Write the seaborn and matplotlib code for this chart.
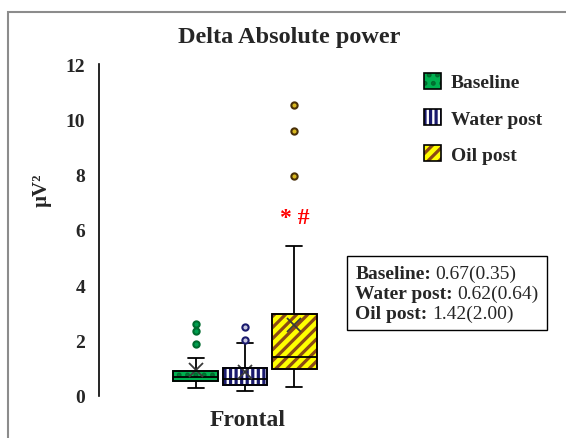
import matplotlib
matplotlib.use("Agg")
import matplotlib.pyplot as plt
import seaborn as sns
import pandas as pd
from matplotlib.patches import Patch, PathPatch, Rectangle
from matplotlib.offsetbox import TextArea, HPacker, VPacker, AnchoredOffsetbox
from matplotlib.legend_handler import HandlerTuple

# values (medians / quartiles / whiskers / outliers)
groups = ["Baseline", "Water post", "Oil post"]
baseline = [0.29, 0.38, 0.45, 0.50, 0.55, 0.58, 0.61, 0.64, 0.67,
            0.71, 0.76, 0.83, 0.90, 1.37, 1.88, 2.35, 2.60]
water_post = [0.18, 0.25, 0.30, 0.34, 0.38, 0.45, 0.52, 0.58, 0.62,
              0.70, 0.80, 0.92, 1.02, 1.35, 1.92, 2.02, 2.49]
oil_post = [0.33, 0.45, 0.55, 0.65, 0.75, 0.85, 0.92, 0.98, 1.05, 1.12,
            1.20, 1.27, 1.33, 1.38, 1.42, 1.55, 1.75, 1.95, 2.20, 2.45,
            2.70, 2.98, 3.30, 3.80, 4.50, 5.42, 7.95, 9.58, 10.52]
summary = ["0.67(0.35)", "0.62(0.64)", "1.42(2.00)"]
yticks = [0, 2, 4, 6, 8, 10, 12]

face_colors = ["#00B050", "#FFFFFF", "#FFFF00"]
hatch_colors = ["#006B2E", "#1A1A6E", "#8B4A14"]
hatches = ["..", "|||", "///"]
flier_face = ["#00A050", "#C8C8E0", "#D8B820"]
flier_edge = ["#006B2E", "#1A1A6E", "#4A3008"]

rows = []
for g, vals in zip(groups, [baseline, water_post, oil_post]):
    for v in vals:
        rows.append({"region": "Frontal", "group": g, "value": v})
df = pd.DataFrame(rows)

sns.set_style("white")
serif = ["Liberation Serif", "DejaVu Serif"]
plt.rcParams["font.family"] = serif
plt.rcParams["hatch.linewidth"] = 2.3

fig = plt.figure(figsize=(5.66, 4.39), dpi=100)
ax = fig.add_axes([99 / 566, 1 - 397 / 439, 292 / 566, 332 / 439])

sns.boxplot(data=df, x="region", y="value", hue="group", hue_order=groups,
            palette=face_colors, saturation=1, width=0.8, gap=0.09,
            showmeans=True,
            meanprops=dict(marker="x", markeredgecolor="#3a3a3a",
                           markersize=10, markeredgewidth=1.3),
            linecolor="black", linewidth=1.3, fliersize=4.5, legend=False,
            ax=ax)

for i, cont in enumerate(ax.containers):
    for box in cont.boxes:
        box.set_hatch(hatches[i])
        box.set_edgecolor(hatch_colors[i])
        outline = PathPatch(box.get_path(), fill=False, edgecolor="black",
                            linewidth=1.3, transform=box.get_transform(),
                            zorder=box.get_zorder() + 0.1)
        ax.add_patch(outline)
    for fl in cont.fliers:
        fl.set_markerfacecolor(flier_face[i])
        fl.set_markeredgecolor(flier_edge[i])
        fl.set_markeredgewidth(1.5)
    for cap in cont.caps:
        xs = cap.get_xdata()
        c = (xs[0] + xs[1]) / 2
        h = (xs[1] - xs[0]) * 0.35
        cap.set_xdata([c - h, c + h])

ax.set_xlim(-0.79, 0.79)
ax.set_ylim(0, 12)
ax.set_yticks(yticks)
ax.set_yticklabels([str(t) for t in yticks], fontweight="bold", fontsize=14)
ax.set_xticks([])
ax.set_xlabel("")
ax.set_ylabel("")
ax.tick_params(axis="y", length=0, pad=10)
for s in ["top", "right", "bottom"]:
    ax.spines[s].set_visible(False)
ax.spines["left"].set_color("black")
ax.spines["left"].set_linewidth(1.2)

ax.text(0.27, 6.45, "* #", color="red", fontsize=17, fontweight="bold",
        ha="center", va="center")

fig.text(289 / 566, 1 - 38 / 439, "Delta Absolute power", ha="center",
         va="center", fontsize=17.5, fontweight="bold")
fig.text(248 / 566, 1 - 421 / 439, "Frontal", ha="center", va="center",
         fontsize=17, fontweight="bold")
fig.text(42 / 566, 1 - 190 / 439, "µV²", ha="center", va="center",
         rotation=90, fontsize=15, fontweight="bold")

# legend with hatched swatches and black outline
handles = []
for i in range(3):
    handles.append((Patch(facecolor=face_colors[i], edgecolor=hatch_colors[i],
                          hatch=hatches[i], linewidth=0),
                    Patch(fill=False, edgecolor="black", linewidth=1.2)))
fig.legend(handles, groups, handler_map={tuple: HandlerTuple(ndivide=1)},
           loc="upper left", bbox_to_anchor=(406 / 566, 1 - 56 / 439),
           frameon=False, handlelength=0.9, handleheight=0.9,
           handletextpad=0.5, labelspacing=0.9,
           prop={"weight": "bold", "size": 14})

# summary box: median (IQR)
lines = []
for g, s in zip(groups, summary):
    lines.append(HPacker(children=[
        TextArea(g + ":", textprops=dict(fontweight="bold", fontsize=14)),
        TextArea(s, textprops=dict(fontsize=14))], pad=0, sep=3))
pack = VPacker(children=lines, pad=0, sep=2)
abox = AnchoredOffsetbox(loc="upper left", child=pack, pad=0.6, frameon=True,
                         bbox_to_anchor=(347 / 566, 1 - 257 / 439),
                         bbox_transform=fig.transFigure, borderpad=0)
abox.patch.set_edgecolor("black")
abox.patch.set_linewidth(1.0)
fig.add_artist(abox)

# outer frame of the original figure
fig.add_artist(Rectangle((8 / 566, -0.1), 1.1, 1.1 - 13 / 439,
                         transform=fig.transFigure, fill=False,
                         edgecolor="#8c8c8c", linewidth=1.5))

plt.savefig("out.png", dpi=100)
